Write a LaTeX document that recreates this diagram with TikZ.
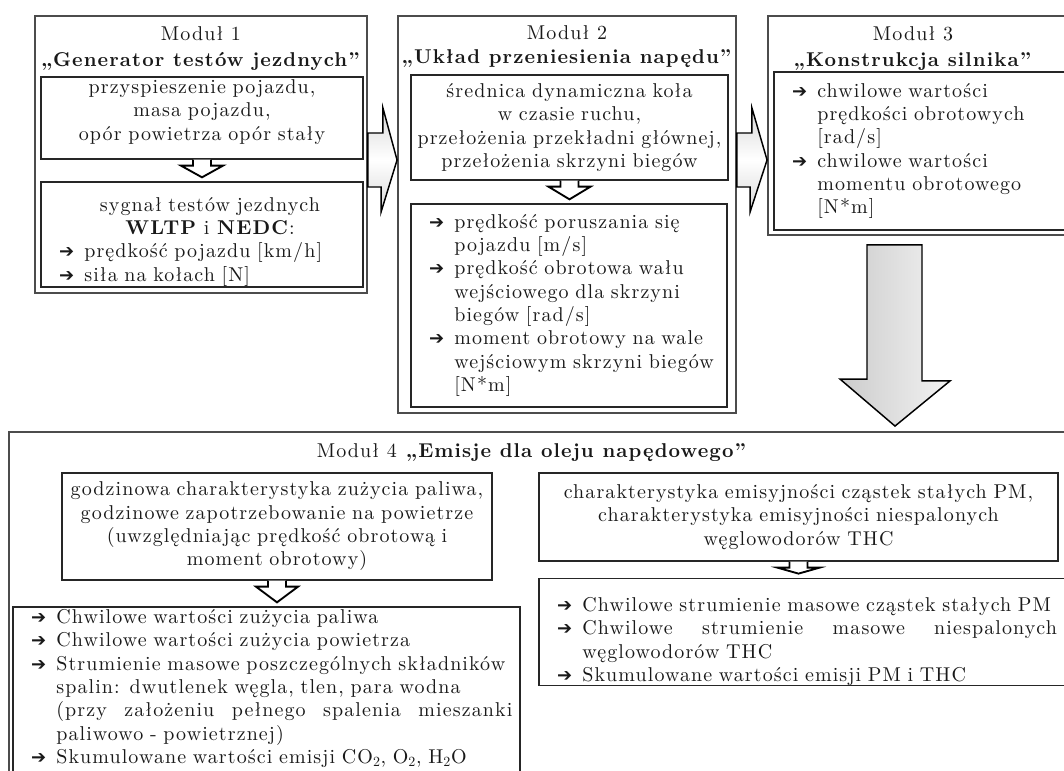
\documentclass[tikz,border=0pt]{standalone}
\usepackage{fontspec}
\setmainfont{lmroman10-regular.otf}[BoldFont=lmroman10-bold.otf, ItalicFont=lmroman10-italic.otf,
  BoldItalicFont=lmroman10-bolditalic.otf, LetterSpace=5.5]
\usepackage{tikz}
\newfontfamily\dejavusym{DejaVu Sans}
\newcommand{\resarrow}{\hspace*{13.5pt}\makebox[19pt][l]{\dejavusym\bfseries\fontsize{13.5}{13.5}\selectfont ➔}}
\newcommand{\resindent}{\hspace*{32.5pt}}
\newcommand{\flowarrow}[2]{%
  \draw[smallarrow] ([xshift=-6.75pt]#1.south) -- ++(0,6) -- ++(-12,0)
    -- ([yshift=3pt]#1.south |- #2.north) -- ([xshift=15.75pt,yshift=-4.5pt]#1.south)
    -- ++(-12,0) -- ++(0,-6);}

\begin{document}
\begin{tikzpicture}[x=0.75pt, y=-0.75pt,
  every node/.style={font=\fontsize{15}{17.5}\selectfont, text=black!90},
  modbox/.style={draw=black!70, line width=1.4pt, inner sep=0pt},
  modtitle/.style={align=center, inner sep=0pt},
  inbox/.style={draw=black!85, line width=1pt, inner sep=0pt, align=center},
  listbox/.style={draw=black!85, line width=1pt, inner sep=0pt, align=left},
  bigarrow/.style={draw=black, line width=1.1pt, top color=gray!30, bottom color=gray!30, middle color=white},
  downarrow/.style={draw=black, line width=1.1pt, left color=gray!40, right color=gray!10},
  smallarrow/.style={draw=black, line width=1.4pt, fill=white}]
\useasboundingbox (0,0) rectangle (1064,771);
\fill[white] (0,0) rectangle (1064,771);
\clip (0,0) rectangle (1064,771);

% Modul 1
\node[modbox, minimum width=249pt, minimum height=207.75pt] (mod1) at (201,154.5) {};
\node[modtitle] (t1) at (201,48.5) {Moduł 1\\[2pt]\textbf{„Generator testów jezdnych”}};
\node[inbox, text width=241.5pt, minimum height=61.5pt] (m1in) at (202,118)
  {przyspieszenie pojazdu,\\masa pojazdu,\\opór powietrza opór stały\rule[-12pt]{0pt}{1pt}};
\node[listbox, text width=241.5pt, minimum height=78.75pt] (m1out) at (202,234.5)
  {\rule{0pt}{21pt}\makebox[\linewidth]{\hspace{12pt}sygnał testów jezdnych}\\
   \makebox[\linewidth]{\hspace{12pt}\textbf{WLTP} i \textbf{NEDC}:}\\
   \resarrow prędkość pojazdu [km/h]\\
   \resarrow siła na kołach [N]};
\flowarrow{m1in}{m1out}

% Modul 2
\node[modbox, minimum width=253.5pt, minimum height=297.75pt] (mod2) at (567,214.5) {};
\node[modtitle] (t2) at (567,46.5) {Moduł 2\\\textbf{„Układ przeniesienia napędu”}};
\node[inbox, text width=237.75pt, minimum height=78.75pt] (m2in) at (569.5,127.5)
  {średnica dynamiczna koła\\w czasie ruchu,\\przełożenia przekładni głównej,\\przełożenia skrzyni biegów};
\node[listbox, text width=237pt, minimum height=152.25pt] (m2out) at (569,305.5)
  {\resarrow prędkość poruszania się\\
   \resindent pojazdu [m/s]\\
   \resarrow prędkość obrotowa wału\\
   \resindent wejściowego dla skrzyni\\
   \resindent biegów [rad/s]\\
   \resarrow moment obrotowy na wale\\
   \resindent wejściowym skrzyni biegów\\
   \resindent [N*m]};
\flowarrow{m2in}{m2out}

% Modul 3
\node[modbox, minimum width=230.25pt, minimum height=164.25pt] (mod3) at (921.5,125.5) {};
\node[modtitle] (t3) at (913,48.5) {Moduł 3\\[2pt]\textbf{„Konstrukcja silnika”}};
\node[listbox, text width=225.75pt, minimum height=118.5pt] (m3in) at (924.5,151)
  {\resarrow chwilowe wartości\\
   \resindent prędkości obrotowych\\
   \resindent [rad/s]\\
   \resarrow chwilowe wartości\\
   \resindent momentu obrotowego\\
   \resindent [N*m]};

% Modul 4
\node[modbox, minimum width=799.5pt, minimum height=268.5pt] (mod4) at (542,611) {};
\node[modtitle] (t4) at (532,453) {Moduł 4 \textbf{„Emisje dla oleju napędowego”}};
\node[inbox, text width=322.5pt, minimum height=80.25pt] (m4ain) at (277,526.5)
  {godzinowa charakterystyka zużycia paliwa,\\godzinowe zapotrzebowanie na powietrze\\(uwzględniając prędkość obrotową i\\moment obrotowy)};
\node[listbox, text width=380.25pt, minimum height=128.25pt] (m4aout) at (266.5,692.5)
  {\resarrow Chwilowe wartości zużycia paliwa\\
   \resarrow Chwilowe wartości zużycia powietrza\\
   \resarrow Strumienie masowe poszczególnych składników\\
   \resindent spalin: dwutlenek węgla, tlen, para wodna\\
   \resindent\makebox[342pt][l]{(przy\hfill założeniu\hfill pełnego\hfill spalenia\hfill mieszanki}\\
   \resindent paliwowo - powietrznej)\\
   \resarrow Skumulowane wartości emisji CO\textsubscript{2}, O\textsubscript{2}, H\textsubscript{2}O\rule[-9pt]{0pt}{1pt}};
\flowarrow{m4ain}{m4aout}
\node[inbox, text width=389.25pt, minimum height=66pt] (m4bin) at (798.5,517)
  {charakterystyka emisyjności cząstek stałych PM,\\charakterystyka emisyjności niespalonych\\węglowodorów THC};
\node[listbox, text width=402pt, minimum height=73.5pt] (m4bout) at (807,632)
  {\rule{0pt}{25pt}\resarrow Chwilowe strumienie masowe cząstek stałych PM\\
   \resarrow\makebox[356pt][l]{Chwilowe\hfill strumienie\hfill masowe\hfill niespalonych}\\
   \resindent węglowodorów THC\\
   \resarrow Skumulowane wartości emisji PM i THC};
\flowarrow{m4bin}{m4bout}

% block arrows between modules
\draw[bigarrow] (mod1.east |- 0,133) -- ++(15,0) -- ++(0,-25) -- (mod2.west |- 0,160)
  -- ++(-16,52) -- ++(0,-25) -- (mod1.east |- 0,187) -- cycle;
\draw[bigarrow] (mod2.east |- 0,133) -- ++(15,0) -- ++(0,-25) -- (mod3.west |- 0,160)
  -- ++(-17,52) -- ++(0,-25) -- (mod2.east |- 0,187) -- cycle;
\draw[downarrow] ([yshift=-6.75pt]mod3.south -| 867,0) -- ++(55,0) -- ++(0,136) -- ++(28,0)
  -- ([yshift=3.75pt]mod4.north -| 895,0) -- ++(-55,-47) -- ++(27,0) -- cycle;
\end{tikzpicture}
\end{document}
